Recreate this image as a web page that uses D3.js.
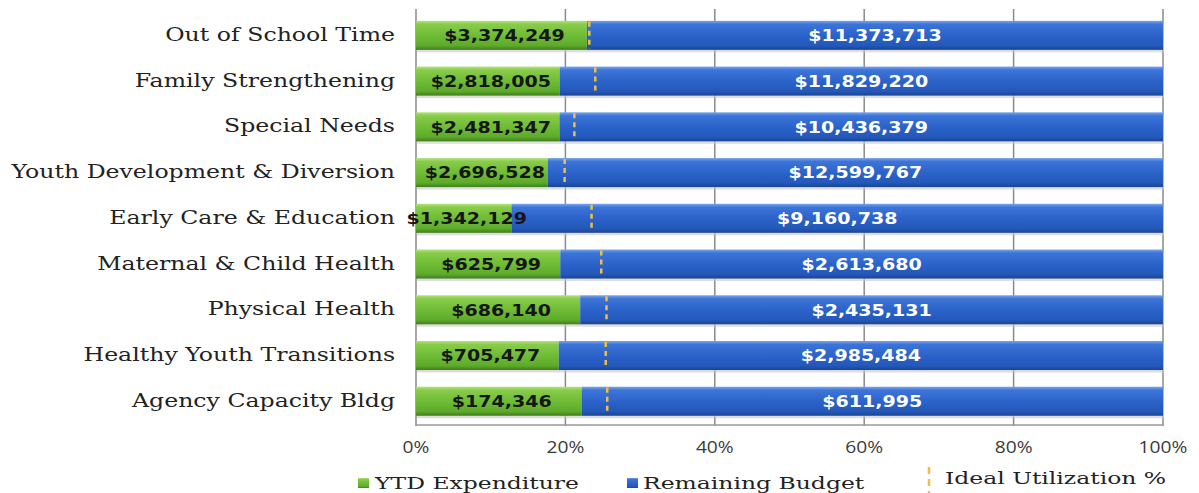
<!DOCTYPE html>
<html>
<head>
<meta charset="utf-8">
<script src="https://cdn.jsdelivr.net/npm/d3@7/dist/d3.min.js"></script>
<style>
  html, body { margin: 0; padding: 0; background: #fff; }
  svg { display: block; }
</style>
</head>
<body>
<svg id="chart" width="1199" height="493"></svg>
<script>
// Budget utilisation by program area
const categories = [
  "Out of School Time",
  "Family Strengthening",
  "Special Needs",
  "Youth Development & Diversion",
  "Early Care & Education",
  "Maternal & Child Health",
  "Physical Health",
  "Healthy Youth Transitions",
  "Agency Capacity Bldg"
];
const ytdExpenditure = [3374249, 2818005, 2481347, 2696528, 1342129, 625799, 686140, 705477, 174346];
const remainingBudget = [11373713, 11829220, 10436379, 12599767, 9160738, 2613680, 2435131, 2985484, 611995];
const idealUtilization = [23.2, 24.0, 21.2, 19.9, 23.5, 24.8, 25.5, 25.4, 25.6]; // percent
const xTicks = [0, 20, 40, 60, 80, 100];
const legendLabels = ["YTD Expenditure", "Remaining Budget", "Ideal Utilization %"];

const svg = d3.select("#chart");
const margin = { left: 416, right: 36, top: 12.6, bottom: 69 };
const W = 1199, H = 493;
const TX = 1.27; // horizontal text stretch

const x = d3.scaleLinear().domain([0, 100]).range([margin.left, W - margin.right]);
const y = d3.scaleBand().domain(categories).range([margin.top, H - margin.bottom]).paddingInner(0.365).paddingOuter(0.18);

const rows = categories.map((c, i) => {
  const total = ytdExpenditure[i] + remainingBudget[i];
  return { cat: c, ytd: ytdExpenditure[i], rem: remainingBudget[i],
           ytdPct: ytdExpenditure[i] / total * 100, ideal: idealUtilization[i] };
});

// gradients
const defs = svg.append("defs");
function grad(id, stops) {
  const g = defs.append("linearGradient").attr("id", id).attr("x1", 0).attr("x2", 0).attr("y1", 0).attr("y2", 1);
  stops.forEach(s => g.append("stop").attr("offset", s[0]).attr("stop-color", s[1]));
}
grad("gGreen", [[0, "#b4e27e"], [0.12, "#88cc4a"], [0.5, "#6fbc36"], [0.85, "#5eab2b"], [1, "#3f7d1b"]]);
grad("gBlue", [[0, "#7aa6ea"], [0.12, "#3c74d8"], [0.5, "#2b63ca"], [0.85, "#2458ba"], [1, "#1a4592"]]);

function stretchedText(sel, px, py, txt, sx = TX) {
  return sel.append("text")
    .attr("transform", `translate(${px},${py}) scale(${sx},1)`)
    .text(txt);
}

// gridlines
const grid = svg.append("g");
grid.selectAll("line").data(xTicks).join("line")
  .attr("x1", d => x(d)).attr("x2", d => x(d))
  .attr("y1", 9).attr("y2", H - margin.bottom + 2)
  .attr("stroke", "#8a8a8a").attr("stroke-width", 1.5);
grid.append("line")
  .attr("x1", x(0)).attr("x2", x(100))
  .attr("y1", H - margin.bottom + 1).attr("y2", H - margin.bottom + 1)
  .attr("stroke", "#9a9a9a").attr("stroke-width", 1.5);

// bar shadows
svg.append("g").selectAll("rect").data(rows).join("rect")
  .attr("x", x(0) + 1).attr("y", d => y(d.cat) + 2.5)
  .attr("width", x(100) - x(0)).attr("height", y.bandwidth())
  .attr("fill", "#c8c8c8").attr("opacity", 0.6);

// YTD segments
const bars = svg.append("g");
bars.selectAll("rect.ytd").data(rows).join("rect").attr("class", "ytd")
  .attr("x", x(0)).attr("y", d => y(d.cat))
  .attr("width", d => x(d.ytdPct) - x(0)).attr("height", y.bandwidth())
  .attr("fill", "url(#gGreen)");
// Remaining segments
bars.selectAll("rect.rem").data(rows).join("rect").attr("class", "rem")
  .attr("x", d => x(d.ytdPct)).attr("y", d => y(d.cat))
  .attr("width", d => x(100) - x(d.ytdPct)).attr("height", y.bandwidth())
  .attr("fill", "url(#gBlue)");

// ideal utilisation markers
svg.append("g").selectAll("line").data(rows).join("line")
  .attr("x1", d => x(d.ideal)).attr("x2", d => x(d.ideal))
  .attr("y1", d => y(d.cat) + 1).attr("y2", d => y(d.cat) + y.bandwidth() - 1)
  .attr("stroke", "#f0be45").attr("stroke-width", 2.5).attr("stroke-dasharray", "5,4");

// value labels
const fmt = d3.format("$,");
const lab = svg.append("g")
  .attr("font-family", "DejaVu Sans, Verdana, sans-serif").attr("font-weight", "bold")
  .attr("font-size", 15).attr("text-anchor", "middle").attr("dominant-baseline", "central");
rows.forEach(d => {
  const cy = y(d.cat) + y.bandwidth() / 2 + 0.5;
  stretchedText(lab, (x(0) + x(d.ytdPct)) / 2 + 3, cy, fmt(d.ytd)).attr("fill", "#161616");
  stretchedText(lab, (x(d.ytdPct) + x(100)) / 2, cy, fmt(d.rem)).attr("fill", "#ffffff");
});

// category labels
const cats = svg.append("g")
  .attr("font-family", "DejaVu Serif, serif").attr("font-size", 18.6)
  .attr("fill", "#222").attr("text-anchor", "end").attr("dominant-baseline", "central");
rows.forEach(d => stretchedText(cats, 395, y(d.cat) + y.bandwidth() / 2 - 1, d.cat));

// x axis tick labels
const ax = svg.append("g")
  .attr("font-family", "Open Sans, sans-serif").attr("font-size", 15.5)
  .attr("fill", "#3a3a3a").attr("text-anchor", "middle").attr("dominant-baseline", "central");
xTicks.forEach(t => stretchedText(ax, x(t), 447, t + "%", 1.24));

// legend
const LX = 1.45;
const lg = svg.append("g")
  .attr("font-family", "DejaVu Serif, serif").attr("font-size", 16.2)
  .attr("fill", "#222").attr("dominant-baseline", "central");
lg.append("rect").attr("x", 358).attr("y", 478).attr("width", 11).attr("height", 10).attr("fill", "url(#gGreen)");
stretchedText(lg, 375, 483, legendLabels[0], LX);
lg.append("rect").attr("x", 627).attr("y", 478).attr("width", 11).attr("height", 10).attr("fill", "url(#gBlue)");
stretchedText(lg, 643, 483, legendLabels[1], LX);
lg.append("line").attr("x1", 929).attr("x2", 929).attr("y1", 467).attr("y2", 493)
  .attr("stroke", "#f0be45").attr("stroke-width", 2.5).attr("stroke-dasharray", "7,5");
stretchedText(lg, 945, 478, legendLabels[2], LX);
</script>
</body>
</html>
